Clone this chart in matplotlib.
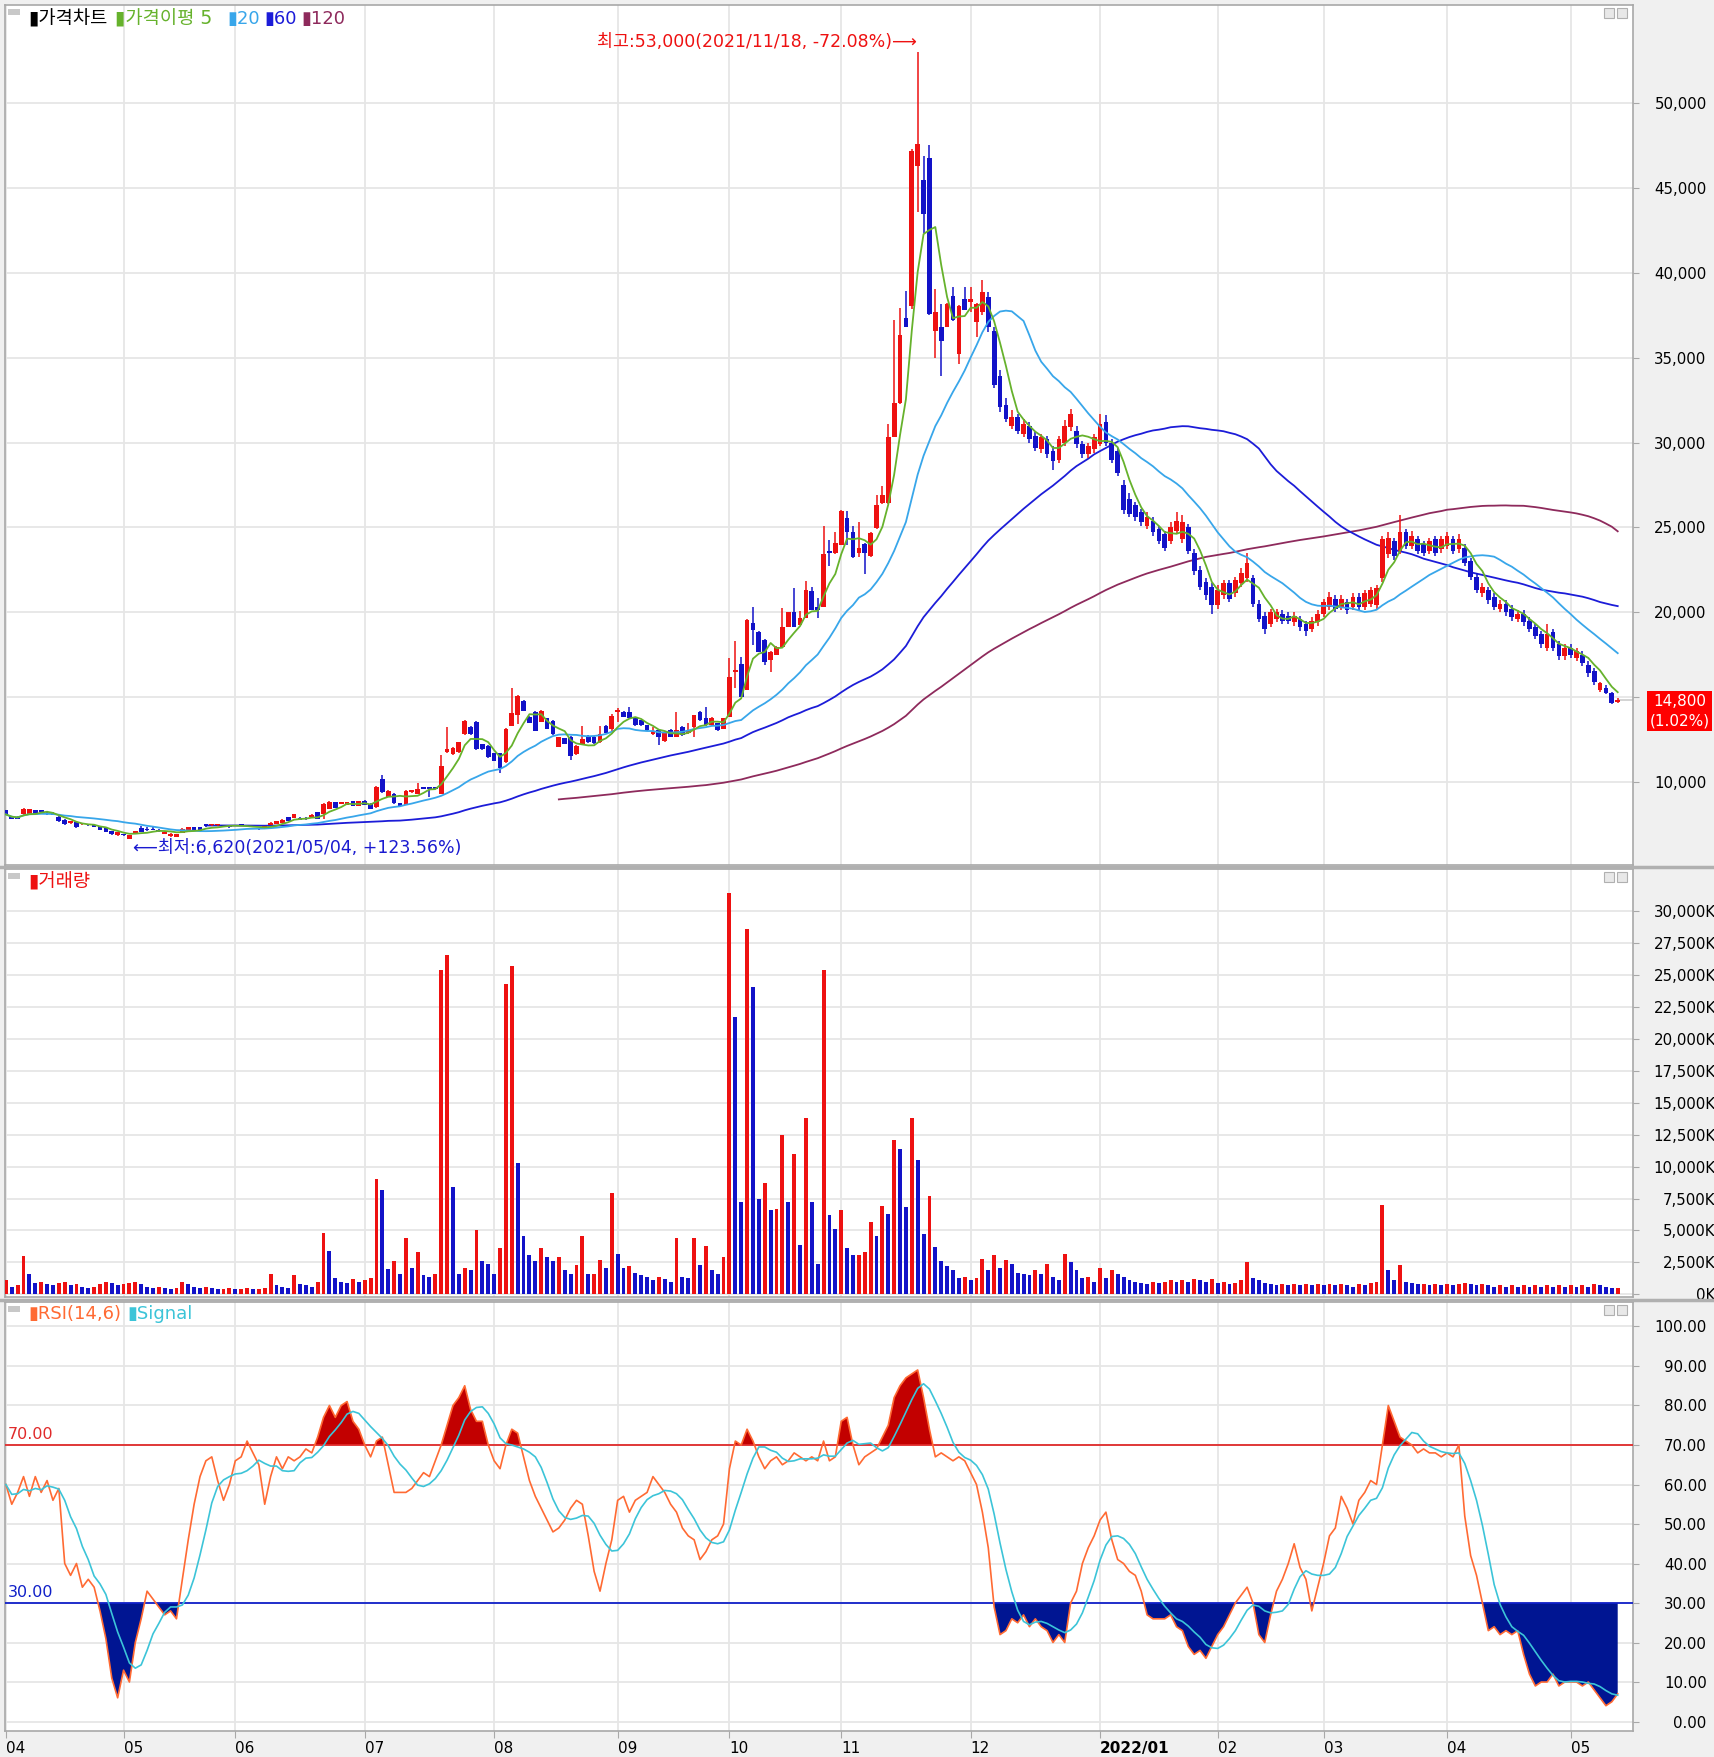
import numpy as np
import pandas as pd
import matplotlib
matplotlib.use("Agg")
import matplotlib.pyplot as plt
from matplotlib.patches import Rectangle
from matplotlib.lines import Line2D

plt.rcParams['font.family'] = ['DejaVu Sans', 'Noto Sans CJK KR']

# trading days per month shown (2021/04 .. 2022/05)
days_in_month = [20, 19, 22, 22, 21, 19, 19, 22, 22, 20, 18, 21, 21, 9]
month_labels = ['04', '05', '06', '07', '08', '09', '10', '11', '12', '2022/01', '02', '03', '04', '05']

opens = [
    8310, 7970, 7910, 8070, 8110, 8310, 8310, 8170, 8170, 7910,
    7770, 7540, 7640, 7480, 7480, 7440, 7380, 7280, 7080, 6830,
    6890, 6650, 6930, 7280, 7180, 7190, 7100, 6930, 6790, 6770,
    6990, 7120, 7320, 7320, 7480, 7420, 7420, 7400, 7340, 7400,
    7440, 7400, 7260, 7240, 7300, 7440, 7520, 7580, 7910, 7870,
    7870, 7870, 7910, 8200, 8100, 8400, 8790, 8690, 8650, 8850,
    8590, 8890, 8690, 8490, 10160, 9120, 9280, 8730, 8630, 9380,
    9280, 9670, 9650, 9670, 9280, 11730, 11630, 11730, 12800, 13240,
    13550, 12220, 12120, 11670, 11670, 11140, 13290, 13940, 14770, 13820,
    14120, 13530, 13750, 13590, 12060, 12550, 12650, 11630, 12220, 12710,
    12650, 12320, 13300, 13100, 14130, 14130, 14130, 13770, 13630, 13340,
    12790, 13040, 12390, 13040, 12650, 13240, 12850, 13240, 14130, 13730,
    13340, 13440, 13100, 13830, 16490, 16920, 15410, 19350, 18850, 18360,
    17180, 17480, 17970, 19150, 19980, 19250, 19680, 21220, 20330, 20330,
    23580, 23490, 23980, 25570, 24720, 23490, 24030, 23300, 24960, 26430,
    26430, 30350, 32310, 37330, 38070, 46280, 45490, 46770, 36600, 36840,
    36840, 38630, 35250, 38440, 38300, 37090, 37700, 38600, 36600, 33900,
    32200, 31000, 31500, 30500, 31000, 30400, 29600, 30200, 29500, 29000,
    30000, 30900, 30700, 29900, 29300, 29600, 29900, 31200, 30000, 29500,
    27500, 26700, 26300, 25900, 25100, 25400, 24900, 24600, 24200, 24800,
    24300, 25000, 23500, 22500, 21800, 21500, 20400, 21000, 21700, 21100,
    21700, 22000, 22000, 20500, 19800, 19300, 19600, 19900, 19800, 19400,
    19600, 19300, 19000, 19400, 19900, 20300, 20800, 20300, 20600, 20300,
    20900, 20300, 20500, 20400, 22000, 23400, 24200, 23600, 24700, 23900,
    24300, 24000, 23600, 24300, 23700, 23900, 24300, 23700, 23800, 23000,
    22100, 21100, 21300, 20900, 20200, 20500, 20200, 19600, 19900, 19500,
    19100, 18700, 17900, 18800, 18100, 17400, 17900, 17300, 17500, 16900,
    16500, 15400, 15550, 15240, 14700,
]
highs = [
    8360, 8000, 7950, 8450, 8420, 8350, 8340, 8250, 8220, 7960,
    7800, 7710, 7680, 7570, 7500, 7460, 7400, 7300, 7100, 7060,
    6920, 6870, 7100, 7380, 7330, 7330, 7200, 7100, 6960, 6910,
    7260, 7360, 7340, 7350, 7500, 7500, 7470, 7430, 7380, 7470,
    7460, 7430, 7290, 7270, 7360, 7620, 7710, 7820, 7940, 8110,
    7900, 7900, 8100, 8230, 8750, 8850, 8820, 8830, 8820, 8880,
    8880, 8920, 8720, 9730, 10390, 9520, 9320, 8760, 9520, 9540,
    9900, 9700, 9680, 9700, 11590, 13240, 12020, 12360, 13650, 13260,
    13580, 12250, 12150, 11700, 11700, 13150, 15550, 15100, 14800, 13850,
    14150, 14210, 13780, 13620, 12650, 12580, 12680, 12150, 13300, 12740,
    12680, 13300, 13330, 14000, 14320, 14200, 14420, 13800, 13660, 13370,
    13240, 13070, 12980, 13080, 14130, 13270, 13440, 13960, 14160, 14420,
    13800, 13470, 13760, 17280, 18300, 17380, 19580, 20330, 18880, 18390,
    17700, 18000, 20230, 20010, 21410, 20040, 21850, 21510, 20820, 25060,
    24270, 24720, 26000, 25940, 25080, 25330, 24100, 24700, 26920, 27410,
    31090, 37210, 37950, 38930, 47300, 53000, 46890, 47550, 39050, 38190,
    38250, 39170, 38100, 39170, 39170, 38250, 39600, 38900, 36800, 34300,
    32600, 31900, 31700, 31400, 31200, 30600, 30500, 30400, 29800, 30400,
    31300, 32000, 31000, 30100, 30000, 30500, 31700, 31600, 30200, 29700,
    27800, 27000, 26500, 26100, 25900, 25600, 25100, 24800, 25300, 25900,
    25700, 25200, 23700, 22700, 22000, 21700, 21600, 21900, 21900, 22100,
    22600, 23500, 22200, 20700, 20000, 20200, 20200, 20100, 20000, 20000,
    19800, 19500, 19700, 20100, 20800, 21200, 21000, 21000, 20800, 21100,
    21100, 21300, 21500, 21600, 24500, 24700, 24400, 25700, 24900, 24800,
    24500, 24200, 24400, 24500, 24500, 24700, 24500, 24600, 24000, 23200,
    22300, 21700, 21500, 21100, 20700, 20700, 20400, 20100, 20100, 19700,
    19300, 18900, 19300, 19000, 18300, 18100, 18100, 17900, 17700, 17100,
    16700, 15900, 15700, 15300, 14950,
]
lows = [
    8040, 7790, 7790, 8040, 8090, 8090, 8200, 8050, 8010, 7650,
    7450, 7520, 7300, 7460, 7400, 7340, 7160, 7020, 6870, 6800,
    6820, 6620, 6900, 7030, 7120, 7140, 7060, 6910, 6770, 6750,
    6970, 7100, 7100, 7100, 7360, 7400, 7400, 7340, 7290, 7380,
    7400, 7350, 7190, 7180, 7280, 7420, 7500, 7560, 7690, 7850,
    7750, 7760, 7880, 7790, 7810, 8380, 8430, 8660, 8630, 8570,
    8570, 8630, 8380, 8460, 9340, 9100, 8700, 8570, 8600, 9350,
    9250, 9550, 9080, 9550, 9250, 11700, 11600, 11700, 12780, 12780,
    11900, 11900, 11400, 11200, 10490, 11100, 13260, 13390, 14150, 13460,
    12980, 13500, 13080, 12780, 12040, 12200, 11300, 11600, 12200, 12300,
    12240, 12300, 12880, 13000, 13530, 13800, 13750, 13300, 13300, 13000,
    12770, 12160, 12350, 12620, 12620, 12720, 12820, 12650, 13600, 13300,
    13300, 13000, 13080, 13800, 15500, 14980, 15380, 18070, 17640, 16880,
    16490, 17450, 17940, 19120, 19120, 19220, 19650, 20100, 19640, 20300,
    22700, 23450, 23950, 23980, 23200, 23250, 22270, 23250, 24900, 26400,
    26400, 30300, 32280, 36800, 37900, 43580, 42360, 37500, 35010, 33900,
    36800, 37180, 34640, 37800, 37700, 36230, 37500, 36500, 33200, 31800,
    31200, 30800, 30500, 30300, 30000, 29500, 29400, 29100, 28400, 28800,
    29800, 30700, 29700, 29100, 29100, 29400, 29800, 29800, 28800, 28000,
    25800, 25600, 25400, 25100, 24900, 24500, 24000, 23600, 24000, 24600,
    24100, 23400, 22200, 21300, 20700, 19900, 20200, 20800, 20600, 20900,
    21500, 21800, 20300, 19400, 18700, 19100, 19400, 19300, 19300, 19200,
    18900, 18600, 18800, 19200, 19700, 20100, 20000, 20100, 19900, 20100,
    20100, 20100, 20300, 20200, 21800, 23200, 23100, 23400, 23700, 23700,
    23400, 23300, 23400, 23300, 23500, 23700, 23400, 23500, 22700, 21900,
    21100, 20900, 20500, 20100, 20000, 19800, 19500, 19400, 19200, 18800,
    18400, 17900, 17700, 17700, 17200, 17200, 17300, 17100, 16800, 16200,
    15700, 15300, 15200, 14600, 14650,
]
closes = [
    8070, 7810, 7810, 8370, 8370, 8110, 8230, 8070, 8030, 7680,
    7480, 7680, 7320, 7540, 7420, 7360, 7180, 7050, 6890, 7030,
    6850, 6830, 7080, 7050, 7140, 7160, 7080, 7030, 6930, 6890,
    7220, 7320, 7120, 7120, 7380, 7480, 7440, 7370, 7310, 7440,
    7430, 7370, 7210, 7200, 7330, 7580, 7680, 7770, 7710, 8070,
    7770, 7800, 8060, 7810, 8690, 8790, 8450, 8790, 8790, 8590,
    8850, 8650, 8400, 9670, 9380, 9470, 8730, 8590, 9470, 9510,
    9570, 9570, 9600, 9570, 10940, 11920, 11980, 12320, 13590, 12800,
    11920, 11920, 11430, 11240, 10810, 13100, 14080, 15060, 14180, 13490,
    13000, 14180, 13100, 12800, 12610, 12220, 11530, 12120, 12510, 12320,
    12260, 12810, 12900, 13900, 14220, 13830, 13770, 13340, 13340, 13040,
    12980, 12650, 12940, 12650, 13040, 12750, 13040, 13930, 13630, 13340,
    13770, 13040, 13730, 16190, 16590, 15010, 19540, 18950, 17670, 17080,
    17670, 17970, 19150, 19980, 19150, 19640, 21320, 20130, 20130, 23420,
    23480, 24100, 25940, 24720, 23250, 23790, 23490, 24640, 26310, 26920,
    30350, 32310, 36350, 36840, 47180, 47620, 43460, 37580, 37700, 35990,
    38190, 37210, 38070, 37830, 38440, 38190, 38900, 36800, 33400, 32100,
    31400, 31500, 30700, 31100, 30200, 29700, 30300, 29300, 28900, 30200,
    31000, 31700, 29900, 29300, 29800, 30300, 31100, 30000, 29000, 28200,
    26000, 25800, 25600, 25300, 25600, 24700, 24200, 23800, 25000, 25400,
    25300, 23600, 22400, 21500, 21000, 20400, 21300, 21700, 20800, 21900,
    22300, 22900, 20500, 19600, 19000, 20000, 20000, 19500, 19500, 19800,
    19100, 18900, 19500, 19900, 20600, 20900, 20200, 20800, 20100, 20900,
    20300, 21100, 21300, 21400, 24300, 24400, 23300, 24700, 23900, 24500,
    23600, 23500, 24200, 23500, 24300, 24500, 23600, 24300, 22900, 22100,
    21300, 21500, 20700, 20300, 20500, 20000, 19700, 19900, 19400, 19000,
    18600, 18100, 18700, 17900, 17400, 17900, 17500, 17700, 17000, 16400,
    15900, 15800, 15250, 14650, 14800,
]
# volume in thousands of shares
volumes = [
    1100, 600, 700, 3000, 1600, 900, 1000, 800, 700, 900,
    1000, 700, 800, 600, 500, 600, 800, 1000, 900, 700,
    800, 900, 1000, 800, 600, 500, 600, 500, 400, 500,
    1000, 800, 600, 500, 600, 500, 400, 400, 500, 400,
    400, 500, 400, 400, 500, 1600, 700, 600, 500, 1500,
    800, 700, 600, 1000, 4800, 3400, 1300, 1000, 900, 1200,
    1000, 1100, 1300, 9000, 8200, 2000, 2600, 1600, 4400, 2100,
    3300, 1500, 1400, 1600, 25400, 26500, 8400, 1600, 2100, 1900,
    5000, 2600, 2400, 1600, 3600, 24300, 25700, 10300, 4600, 3100,
    2600, 3600, 2900, 2600, 2900, 1900, 1600, 2300, 4600, 1600,
    1600, 2700, 2100, 7900, 3200, 2100, 2200, 1700, 1500, 1400,
    1100, 1400, 1200, 1000, 4400, 1400, 1300, 4400, 2300, 3800,
    1900, 1600, 2900, 31400, 21700, 7200, 28600, 24000, 7500, 8700,
    6600, 6700, 12500, 7200, 11000, 3900, 13800, 7200, 2400, 25400,
    6200, 5100, 6600, 3600, 3100, 3100, 3300, 5700, 4600, 6900,
    6300, 12100, 11400, 6800, 13800, 10500, 4700, 7700, 3700, 2600,
    2200, 1900, 1300, 1400, 1100, 1300, 2800, 1900, 3100, 2100,
    2700, 2400, 1700, 1600, 1500, 1900, 1600, 2400, 1400, 1100,
    3200, 2500, 1900, 1300, 1400, 1000, 2100, 1300, 1900, 1600,
    1400, 1100, 1000, 900, 800, 1000, 900, 1000, 1100, 1000,
    1100, 1000, 1200, 1100, 1000, 1200, 900, 1000, 800, 900,
    1100, 2500, 1300, 1100, 900, 800, 700, 800, 700, 800,
    700, 800, 700, 800, 700, 800, 700, 800, 700, 600,
    800, 700, 900, 1000, 7000, 1900, 1100, 2300, 1000, 900,
    800, 800, 700, 800, 700, 800, 700, 800, 900, 800,
    700, 800, 700, 600, 700, 600, 700, 600, 700, 600,
    700, 600, 700, 600, 700, 600, 700, 600, 700, 600,
    800, 700, 600, 500, 500,
]
rsi_values = [
    60, 55, 58, 62, 57, 62, 58, 61, 56, 59,
    40, 37, 40, 34, 36, 34, 28, 21, 11, 6,
    13, 10, 20, 26, 33, 31, 29, 27, 28, 26,
    36, 46, 55, 62, 66, 67, 61, 56, 60, 66,
    67, 71, 68, 65, 55, 62, 67, 64, 67, 66,
    67, 69, 68, 72, 77, 80, 77, 80, 81, 76,
    74, 70, 67, 71, 72, 65, 58, 58, 58, 59,
    61, 63, 62, 66, 70, 75, 80, 82, 85, 79,
    76, 76, 70, 66, 64, 70, 74, 73, 67, 61,
    57, 54, 51, 48, 49, 51, 54, 56, 55, 47,
    38, 33, 40, 46, 56, 57, 53, 56, 57, 58,
    62, 60, 58, 55, 53, 49, 47, 46, 41, 43,
    46, 47, 50, 64, 71, 70, 74, 71, 67, 64,
    66, 67, 65, 66, 68, 67, 66, 67, 66, 71,
    66, 67, 76, 77, 70, 65, 67, 68, 69, 72,
    75, 82, 85, 87, 88, 89, 82, 74, 67, 68,
    67, 66, 67, 66, 63, 60, 53, 44, 29, 22,
    23, 26, 25, 27, 24, 26, 24, 23, 20, 22,
    20, 30, 33, 40, 44, 47, 51, 53, 46, 41,
    40, 38, 37, 33, 27, 26, 26, 26, 27, 24,
    23, 19, 17, 18, 16, 19, 22, 24, 27, 30,
    32, 34, 30, 22, 20, 27, 33, 36, 40, 45,
    39, 36, 28, 34, 40, 47, 49, 57, 54, 50,
    56, 58, 61, 60, 70, 80, 76, 72, 71, 70,
    68, 69, 68, 68, 67, 68, 67, 70, 52, 42,
    37, 30, 23, 24, 22, 23, 22, 23, 17, 12,
    9, 10, 10, 12, 9, 10, 10, 10, 9, 10,
    8, 6, 4, 5, 7,
]

RED = '#ee1111'
BLUE = '#1212c8'
GRID = '#e6e6e6'

W, H = 1715, 1757
fig = plt.figure(figsize=(W / 100, H / 100), dpi=100, facecolor='#f0f0f0')


def box(left, top, right, bottom):
    return [left / W, 1 - bottom / H, (right - left) / W, (bottom - top) / H]


def fx(px):
    return px / W


def fy(py):
    return 1 - py / H


ax1 = fig.add_axes(box(5, 5, 1633, 865))
ax2 = fig.add_axes(box(5, 869, 1633, 1297), sharex=ax1)
ax3 = fig.add_axes(box(5, 1302, 1633, 1731), sharex=ax1)

x = np.arange(len(closes))
o = np.array(opens, float)
c = np.array(closes, float)
hi = np.array(highs, float)
lo = np.array(lows, float)
month_starts = np.concatenate([[0], np.cumsum(days_in_month)[:-1]])

for ax in (ax1, ax2, ax3):
    ax.set_facecolor('white')
    for sp in ax.spines.values():
        sp.set_color('#a8a8a8')
        sp.set_linewidth(1.2)
    for m in month_starts:
        ax.axvline(m, color=GRID, lw=1.3, zorder=0)
    ax.grid(axis='y', color=GRID, lw=1.3)
    ax.set_axisbelow(True)
    ax.yaxis.tick_right()

# ---- price panel ----
up = c >= o
col = np.where(up, RED, BLUE)
ax1.vlines(x, lo, hi, colors=col, lw=1.1, zorder=3)
ax1.bar(x, np.maximum(np.abs(c - o), 70), bottom=np.minimum(o, c), width=0.8,
        color=col, lw=0, zorder=4)

s = pd.Series(c)
ma5 = s.rolling(5, min_periods=1).mean()
ma20 = s.rolling(20, min_periods=1).mean()
ma60 = s.rolling(60, min_periods=1).mean()
ma120 = s.rolling(120, min_periods=1).mean()
ma60[:34] = np.nan      # older history is off the chart
ma120[:94] = np.nan
ax1.plot(x, ma120, color='#8e2a5c', lw=1.3, zorder=2)
ax1.plot(x, ma60, color='#1c1cd8', lw=1.3, zorder=2)
ax1.plot(x, ma20, color='#38a6ea', lw=1.3, zorder=5)
ax1.plot(x, ma5, color='#66b22c', lw=1.3, zorder=5)

ax1.set_ylim(5090, 55800)
ax1.set_yticks(np.arange(10000, 50001, 5000))
ax1.set_yticklabels([f'{v:,}' for v in range(10000, 50001, 5000)])
ax1.hlines(c[-1], x[-1], 276.6, color='#cccccc', lw=1.2, zorder=1)

imax = int(np.argmax(hi))
imin = int(np.argmin(lo))
ax1.text(imax - 0.1, 53640, '최고:53,000(2021/11/18, -72.08%)⟶', color=RED,
         fontsize=12.5, ha='right', va='center')
ax1.text(imin + 0.6, 6090, '⟵최저:6,620(2021/05/04, +123.56%)', color='#1a1ad0',
         fontsize=12.5, ha='left', va='center')

# ---- volume panel ----
v = np.array(volumes, float)
vcol = [RED if i == 0 or v[i] >= v[i - 1] else BLUE for i in range(len(v))]
ax2.bar(x, v, width=0.66, color=vcol, lw=0, zorder=3)
ax2.set_ylim(-200, 33260)
ax2.set_yticks(np.arange(0, 30001, 2500))
ax2.set_yticklabels([f'{t:,}K' for t in range(0, 30001, 2500)])

# ---- RSI panel ----
r = np.array(rsi_values, float)
sig = pd.Series(r).rolling(6, min_periods=1).mean()
ax3.fill_between(x, 70, r, where=r >= 70, interpolate=True, color='#c20000', lw=0, zorder=2)
ax3.fill_between(x, r, 30, where=r <= 30, interpolate=True, color='#001592', lw=0, zorder=2)
ax3.axhline(70, color='#e02a2a', lw=1.3, zorder=3)
ax3.axhline(30, color='#1020c8', lw=1.3, zorder=3)
ax3.plot(x, r, color='#ff6a33', lw=1.2, zorder=4)
ax3.plot(x, sig, color='#3cc4d8', lw=1.2, zorder=5)
ax3.text(0.3, 70.8, '70.00', color='#e02a2a', fontsize=11.5, va='bottom', ha='left')
ax3.text(0.3, 30.8, '30.00', color='#1020c8', fontsize=11.5, va='bottom', ha='left')
ax3.set_ylim(-2.4, 106.2)
ax3.set_yticks(np.arange(0, 101, 10))
ax3.set_yticklabels([f'{t:.2f}' for t in range(0, 101, 10)])

ax1.set_xlim(-0.15, 276.6)
ax3.set_xticks(month_starts)
ax3.set_xticklabels(month_labels, ha='left', fontsize=11)
for lab in ax3.get_xticklabels():
    if '/' in lab.get_text():
        lab.set_fontweight('bold')
ax3.tick_params(axis='x', length=5, color='#a8a8a8', pad=2)
for ax in (ax1, ax2):
    ax.tick_params(axis='x', length=0, labelbottom=False)

for ax, pad in ((ax1, 49), (ax2, 55.5), (ax3, 49)):
    ax.tick_params(axis='y', length=4, color='#a8a8a8', labelsize=10.8, pad=pad)
    for lab in ax.get_yticklabels():
        lab.set_horizontalalignment('right')

# panel separators
for yy in (867, 1299.5):
    fig.add_artist(Line2D([0, 1], [fy(yy), fy(yy)], color='#b0b0b0', lw=2.5))

# legends
LF = 13.5
fig.text(fx(28), fy(19), '▮가격차트', color='black', fontsize=LF, va='center')
fig.text(fx(115), fy(19), '▮가격이평 5', color='#66b22c', fontsize=LF, va='center')
fig.text(fx(227), fy(19), '▮20', color='#38a6ea', fontsize=LF - 0.5, va='center')
fig.text(fx(264), fy(19), '▮60', color='#1c1cd8', fontsize=LF - 0.5, va='center')
fig.text(fx(301), fy(19), '▮120', color='#8e2a5c', fontsize=LF - 0.5, va='center')
fig.text(fx(28), fy(882), '▮거래량', color=RED, fontsize=LF, va='center')
fig.text(fx(28), fy(1314), '▮RSI(14,6)', color='#ff6a33', fontsize=LF - 0.5, va='center')
fig.text(fx(127), fy(1314), '▮Signal', color='#3cc4d8', fontsize=LF - 0.5, va='center')

# small window icons
for top in (8, 872, 1305):
    fig.add_artist(Rectangle((fx(8), fy(top + 7)), 12 / W, 6 / H, color='#c8c8c8', lw=0))
    for left in (1604, 1617):
        fig.add_artist(Rectangle((fx(left), fy(top + 10)), 10 / W, 10 / H,
                                 facecolor='#e8e8e8', edgecolor='#b0b0b0', lw=0.8))

# current price tag
fig.add_artist(Rectangle((fx(1647), fy(731)), 65 / W, 40 / H, color='#ff0000', lw=0, zorder=5))
fig.text(fx(1679.5), fy(701), f'{int(c[-1]):,}', color='white', fontsize=11,
         ha='center', va='center', zorder=6)
fig.text(fx(1679.5), fy(721), '(1.02%)', color='white', fontsize=11,
         ha='center', va='center', zorder=6)

fig.savefig('out.png', dpi=100, facecolor=fig.get_facecolor())
